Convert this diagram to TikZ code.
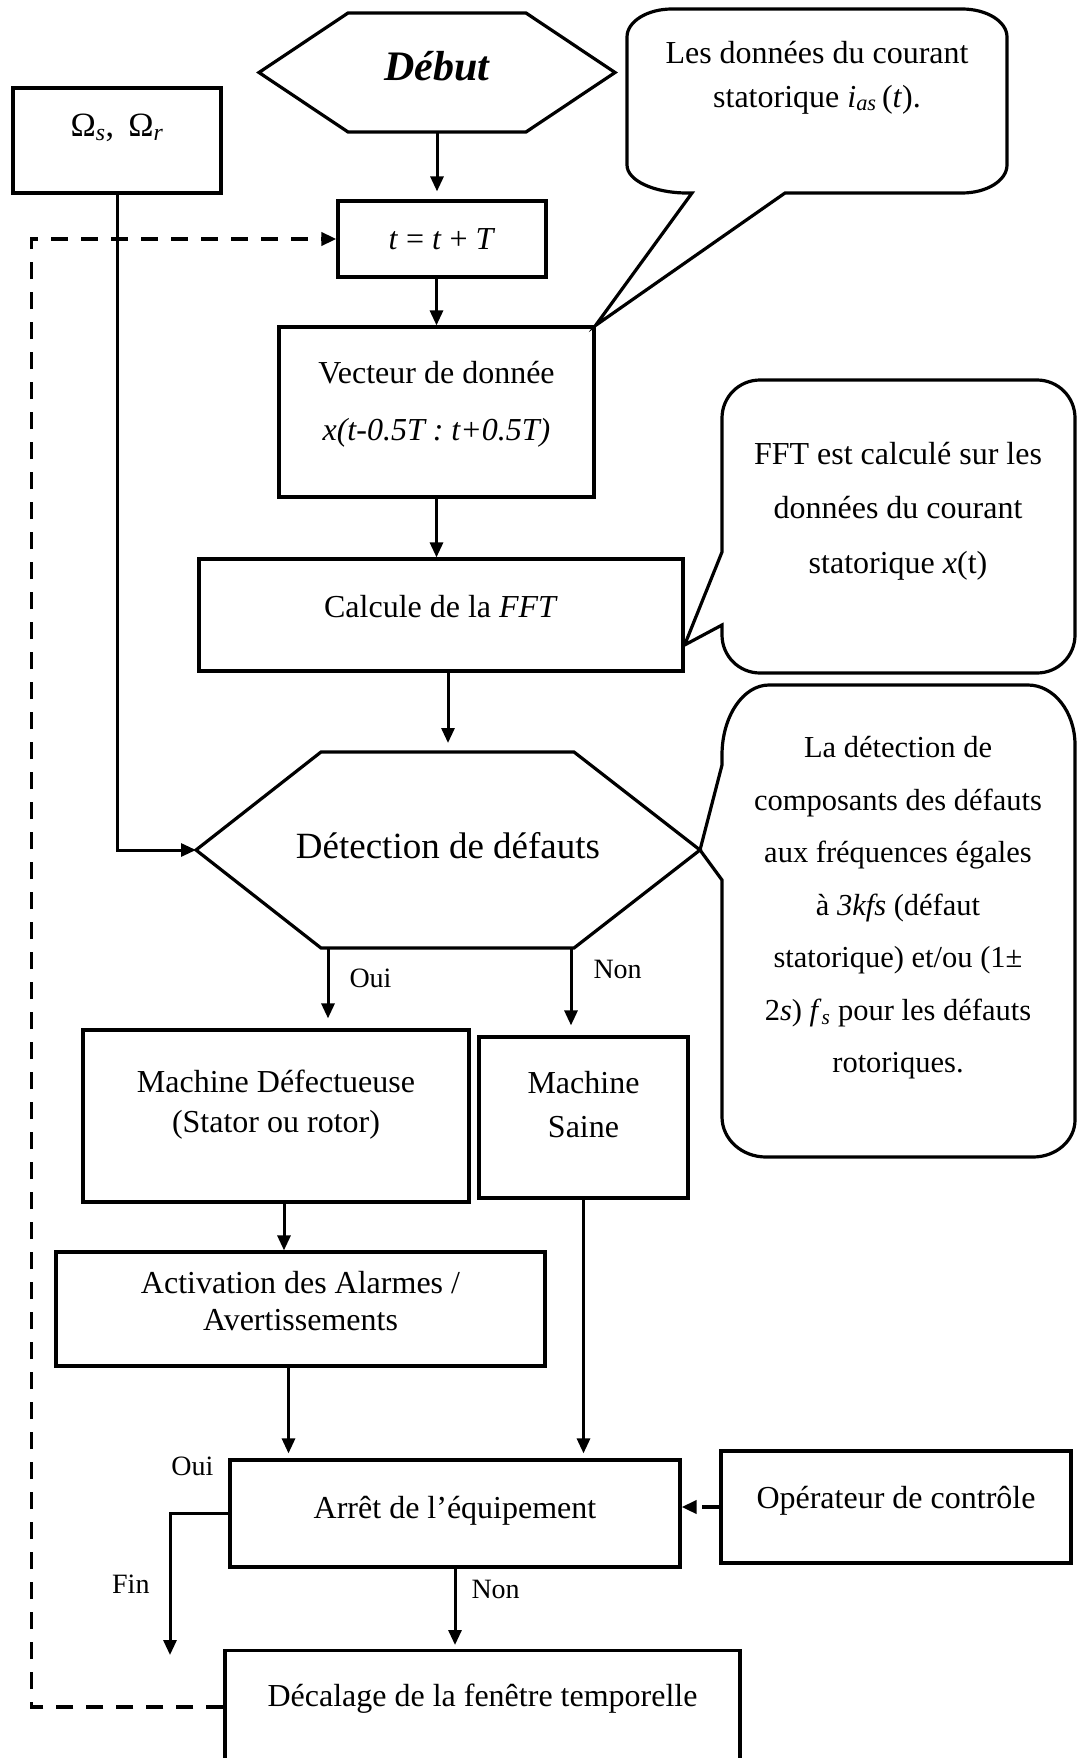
\documentclass[tikz,border=0pt]{standalone}
\usepackage{fontspec}
\setmainfont{Liberation Serif}
\usetikzlibrary{arrows.meta, positioning, calc}
\newcommand{\padbelow}[1]{\rule[-#1]{0pt}{#1}}
\tikzset{
    box/.style={
        rectangle, draw, line width=3.2pt,
        align=center, inner sep=3pt,
        font=\fontsize{32}{40}\selectfont
    },
    hexbox/.style={
        rectangle, outer sep=0pt, inner sep=0pt, align=center
    },
    outline/.style={line width=3.2pt, line join=miter},
    note/.style={align=center, inner sep=0pt},
    arrow/.style={-{Triangle[length=15pt, width=13pt]}, line width=3pt},
    dashedarrow/.style={-{Triangle[length=15pt, width=13pt]}, line width=3.6pt, dash pattern=on 17pt off 13pt},
    anno/.style={font=\fontsize{28}{32}\selectfont, inner sep=2pt}
}

\begin{document}
\begin{tikzpicture}[x=1pt, y=-1pt]
    \useasboundingbox (0,0) rectangle (1077,1758);
    \clip (0,0) rectangle (1077,1758);

    % Start and main column
    \node[hexbox, minimum width=356pt, minimum height=119pt, font=\fontsize{42}{50}\selectfont\bfseries\itshape] (debut) at (437,72.5) {Début\padbelow{13pt}};
    \draw[outline] ([xshift=89pt]debut.north west) -- ([xshift=-89pt]debut.north east) -- (debut.east)
        -- ([xshift=-89pt]debut.south east) -- ([xshift=89pt]debut.south west) -- (debut.west) -- cycle;

    \node[box, minimum width=208pt, minimum height=105pt, font=\fontsize{34}{40}\selectfont] (omega) at (117,140.5) {Ω\textsubscript{\textit{s}},\ \,Ω\textsubscript{\textit{r}}\padbelow{30pt}};
    \node[box, minimum width=208pt, minimum height=76pt] (tstep) at (442,239) {\textit{t} = \textit{t} + \textit{T}};
    \node[box, minimum width=315pt, minimum height=170pt, font=\fontsize{32}{57}\selectfont] (vect) at (436.5,412) {Vecteur de donnée\\\textit{x(t-0.5T : t+0.5T)}\padbelow{23pt}};
    \node[box, minimum width=484pt, minimum height=112pt] (fft) at (441,615) {Calcule de la \textit{FFT}\padbelow{18pt}};

    % Decision
    \node[hexbox, minimum width=504pt, minimum height=196pt, font=\fontsize{37}{44}\selectfont] (detect) at (448,850) {Détection de défauts\padbelow{10pt}};
    \draw[outline] ([xshift=125pt]detect.north west) -- ([xshift=-126pt]detect.north east) -- (detect.east)
        -- ([xshift=-126pt]detect.south east) -- ([xshift=125pt]detect.south west) -- (detect.west) -- cycle;

    % Outcomes
    \node[box, minimum width=386pt, minimum height=172pt] (defect) at (276,1116) {Machine Défectueuse\\(Stator ou rotor)\padbelow{30pt}};
    \node[box, minimum width=209pt, minimum height=161pt, font=\fontsize{32}{44}\selectfont] (sain) at (583.5,1117.5) {Machine\\Saine\padbelow{27pt}};
    \node[box, minimum width=489pt, minimum height=114pt, font=\fontsize{32}{37}\selectfont] (alarm) at (300.5,1309) {Activation des Alarmes /\\Avertissements\padbelow{17pt}};
    \node[box, minimum width=450pt, minimum height=107pt] (arret) at (455,1513.5) {Arrêt de l’équipement\padbelow{13pt}};
    \node[box, minimum width=350pt, minimum height=112pt] (oper) at (896,1507) {Opérateur de contrôle\padbelow{20pt}};
    \node[box, anchor=north, minimum width=515pt, minimum height=150pt] (decal) at (482.5,1649) {Décalage de la fenêtre temporelle\padbelow{60pt}};

    % Callouts
    \node[note, font=\fontsize{32}{44}\selectfont] (noteA) at (817,77.5) {Les données du courant\\statorique \textit{i}\textsubscript{\textit{as}}\,(\textit{t}).};
    \draw[outline] (692,193) -- (vect.north east) -- (785,193) -- (962,193)
        .. controls (986.8,193) and (1007,180.5) .. (1007,165) -- (1007,37)
        .. controls (1007,21.5) and (986.8,9) .. (962,9) -- (672,9)
        .. controls (647.2,9) and (627,21.5) .. (627,37) -- (627,165)
        .. controls (627,180.5) and (653.9,193) .. (687,193) -- cycle;

    \node[note, font=\fontsize{32}{54.5}\selectfont] (noteB) at (898,511) {FFT est calculé sur les\\données du courant\\statorique \textit{x}(t)};
    \draw[outline] (722,552) -- (722,418)
        .. controls (722,397) and (739,380) .. (760,380) -- (1037,380)
        .. controls (1058,380) and (1075,397) .. (1075,418) -- (1075,635)
        .. controls (1075,656) and (1058,673) .. (1037,673) -- (760,673)
        .. controls (739,673) and (722,656) .. (722,635) -- (722,625) -- ([yshift=-30pt]fft.east) -- cycle;

    \node[note, font=\fontsize{30.5}{52.5}\selectfont] (noteC) at (898,908) {La détection de\\composants des défauts\\aux fréquences égales\\à \textit{3kfs} (défaut\\statorique) et/ou (1±\\2\textit{s}) \textit{f}\textsubscript{\textit{s}} pour les défauts\\rotoriques.};
    \draw[outline] (722,880) -- (722,1117)
        .. controls (722,1139.1) and (741.7,1157) .. (766,1157) -- (1033,1157)
        .. controls (1056.2,1157) and (1075,1140.4) .. (1075,1120) -- (1075,745)
        .. controls (1075,711.9) and (1053.9,685) .. (1028,685) -- (769,685)
        .. controls (743.1,685) and (722,716.4) .. (722,755) -- (722,765) -- (detect.east) -- cycle;

    % Main flow
    \draw[arrow, shorten >=8pt] (debut.south) -- (debut.south |- tstep.north);
    \draw[arrow] (vect.north |- tstep.south) -- (vect.north);
    \draw[arrow] (vect.south) -- (vect.south |- fft.north);
    \draw[arrow, shorten >=9pt] (detect.north |- fft.south) -- (detect.north);
    \draw[arrow] (omega.south) |- (detect.west);

    % Oui / Non branches
    \draw[arrow, shorten >=10pt] ([xshift=132pt]detect.south west) -- ([xshift=132pt]detect.south west |- defect.north)
        node[anno, pos=0.38, anchor=west, xshift=18pt] (oui1) {Oui};
    \draw[arrow, shorten >=10pt] ([xshift=-129pt]detect.south east) -- ([xshift=-129pt]detect.south east |- sain.north)
        node[anno, pos=0.24, anchor=west, xshift=19pt] (non1) {Non};
    \draw[arrow] ([xshift=8pt]defect.south) -- ([xshift=8pt]defect.south |- alarm.north);
    \draw[arrow, shorten >=5pt] ([xshift=-12pt]alarm.south) -- ([xshift=-12pt]alarm.south |- arret.north);
    \draw[arrow, shorten >=5pt] (sain.south) -- (sain.south |- arret.north);
    \draw[arrow, shorten >=4pt] (arret.south) -- (arret.south |- decal.north)
        node[anno, pos=0.26, anchor=west, xshift=13pt] (non2) {Non};

    % End
    \coordinate (fin) at (170,1655);
    \draw[arrow] (arret.west) -| (fin) node[anno, pos=0.75, anchor=east, xshift=-17pt] (fin1) {Fin};
    \node[anno] (oui2) at ($(arret.north west)+(-36,8)$) {Oui};

    % Dashed links
    \draw[dashedarrow] (oper.west) -- (oper.west -| arret.east);
    \draw[dashedarrow] ([yshift=-58pt]decal.north west) -| ([xshift=-305pt]tstep.west) -- (tstep.west);
\end{tikzpicture}
\end{document}
